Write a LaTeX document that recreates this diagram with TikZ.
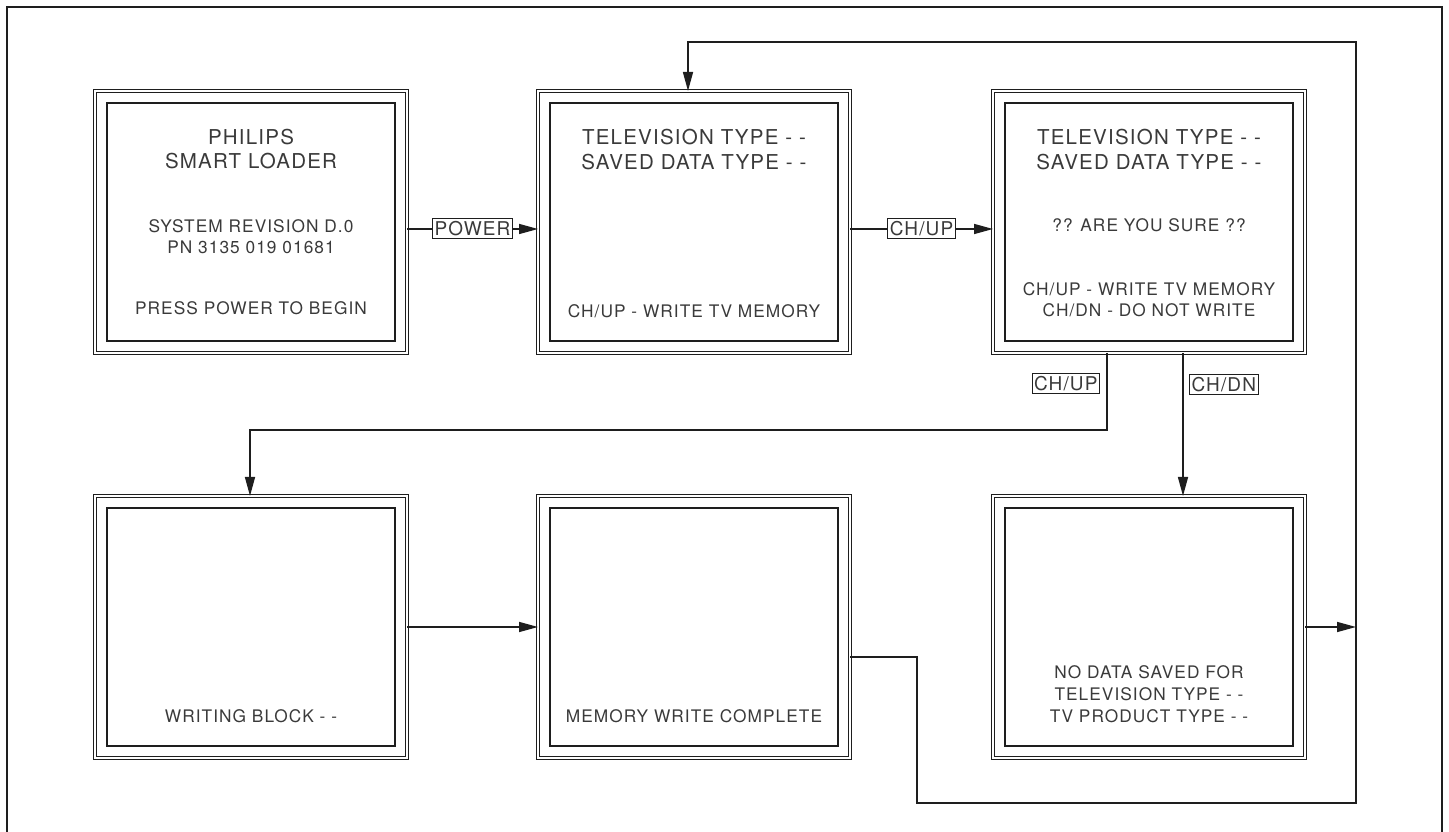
\documentclass[tikz,border=0pt]{standalone}
\usepackage{fontspec}
\setmainfont{TeX Gyre Heros}[LetterSpace=6]
\usetikzlibrary{arrows.meta,positioning}
\definecolor{ink}{HTML}{1E1E1E}
\definecolor{type}{HTML}{3A3A3A}
\tikzset{
  screen/.style={
    rectangle,
    draw=ink,
    double,
    line width=1.3pt,
    double distance=2.2pt,
    minimum width=312pt,
    minimum height=262pt,
    outer sep=0pt,
    path picture={
      \draw[ink, line width=1.8pt]
        ([shift={(12pt,-12pt)}]path picture bounding box.north west) rectangle
        ([shift={(-12pt,12pt)}]path picture bounding box.south east);
    }
  },
  big/.style={
    anchor=base,
    inner sep=0pt,
    text=type,
    font=\fontsize{20.5}{24}\selectfont
  },
  small/.style={
    anchor=base,
    inner sep=0pt,
    text=type,
    font=\fontsize{17.3}{20}\selectfont
  },
  tag/.style={
    draw=ink,
    line width=1pt,
    inner xsep=2pt,
    inner ysep=1pt,
    minimum height=20pt,
    fill=white,
    text=type,
    font=\fontsize{19}{22}\selectfont
  },
  arrow/.style={
    -{Triangle[length=19pt,width=10pt]},
    draw=ink,
    line width=1.5pt
  },
  link/.style={
    draw=ink,
    line width=1.5pt
  }
}

\begin{document}
\begin{tikzpicture}[x=1pt,y=1pt]

\useasboundingbox (0,0) rectangle (1449,832);
\draw[ink, line width=2.5pt] (7,0) -- (7,825) -- (1442,825) -- (1442,0);

\node[screen] (s1) at (251,610) {};
\node[screen, right=131pt of s1] (s2) {};
\node[screen, right=143pt of s2] (s3) {};
\node[screen, below=143pt of s1] (s4) {};
\node[screen, right=131pt of s4] (s5) {};
\node[screen, right=143pt of s5] (s6) {};

% start screen
\node[big] (s1a) at ([yshift=-54pt]s1.north) {PHILIPS};
\node[big] (s1b) at ([yshift=-78pt]s1.north) {SMART LOADER};
\node[small] (s1c) at ([yshift=-142pt]s1.north) {SYSTEM REVISION D.0};
\node[small] (s1d) at ([yshift=-163pt]s1.north) {PN 3135 019 01681};
\node[small] (s1e) at ([yshift=-224pt]s1.north) {PRESS POWER TO BEGIN};

\node[big] (s2a) at ([yshift=-54pt]s2.north) {TELEVISION TYPE - -};
\node[big] (s2b) at ([yshift=-79pt]s2.north) {SAVED DATA TYPE - -};
\node[small] (s2c) at ([yshift=-227pt]s2.north) {CH/UP - WRITE TV MEMORY};

\node[big] (s3a) at ([yshift=-54pt]s3.north) {TELEVISION TYPE - -};
\node[big] (s3b) at ([yshift=-79pt]s3.north) {SAVED DATA TYPE - -};
\node[small] (s3c) at ([yshift=-141pt]s3.north) {?? ARE YOU SURE ??};
\node[small] (s3d) at ([yshift=-205pt]s3.north) {CH/UP - WRITE TV MEMORY};
\node[small] (s3e) at ([yshift=-226pt]s3.north) {CH/DN - DO NOT WRITE};

% second row
\node[small] (s4a) at ([yshift=-227pt]s4.north) {WRITING BLOCK - -};
\node[small] (s5a) at ([yshift=-227pt]s5.north) {MEMORY WRITE COMPLETE};
\node[small] (s6a) at ([yshift=-183pt]s6.north) {NO DATA SAVED FOR};
\node[small] (s6b) at ([yshift=-205pt]s6.north) {TELEVISION TYPE - -};
\node[small] (s6c) at ([yshift=-227pt]s6.north) {TV PRODUCT TYPE - -};

\coordinate (loopdn) at (1356,29);
\coordinate (loopup) at (1356,790);

\draw[arrow] ([yshift=-7pt]s1.east) -- node[tag] {POWER} ([yshift=-7pt]s2.west);
\draw[arrow] ([yshift=-7pt]s2.east) -- node[tag] {CH/UP} ([yshift=-7pt]s3.west);
\draw[arrow] ([xshift=-42pt]s3.south) -- node[tag, pos=0.4, left=7pt] {CH/UP} ++(0,-77pt) -| ([xshift=-1pt]s4.north);
\draw[arrow] ([xshift=34pt]s3.south) -- node[tag, pos=0.22, right=6pt] {CH/DN} ([xshift=34pt]s6.north);
\draw[arrow] (s4.east) -- (s5.west);
\draw[arrow] ([yshift=-30pt]s5.east) -- ++(67pt,0) |- (loopdn) -- (loopup) -| ([xshift=-6pt]s2.north);
\draw[arrow] (s6.east) -- (s6.east -| loopdn);

\end{tikzpicture}
\end{document}
